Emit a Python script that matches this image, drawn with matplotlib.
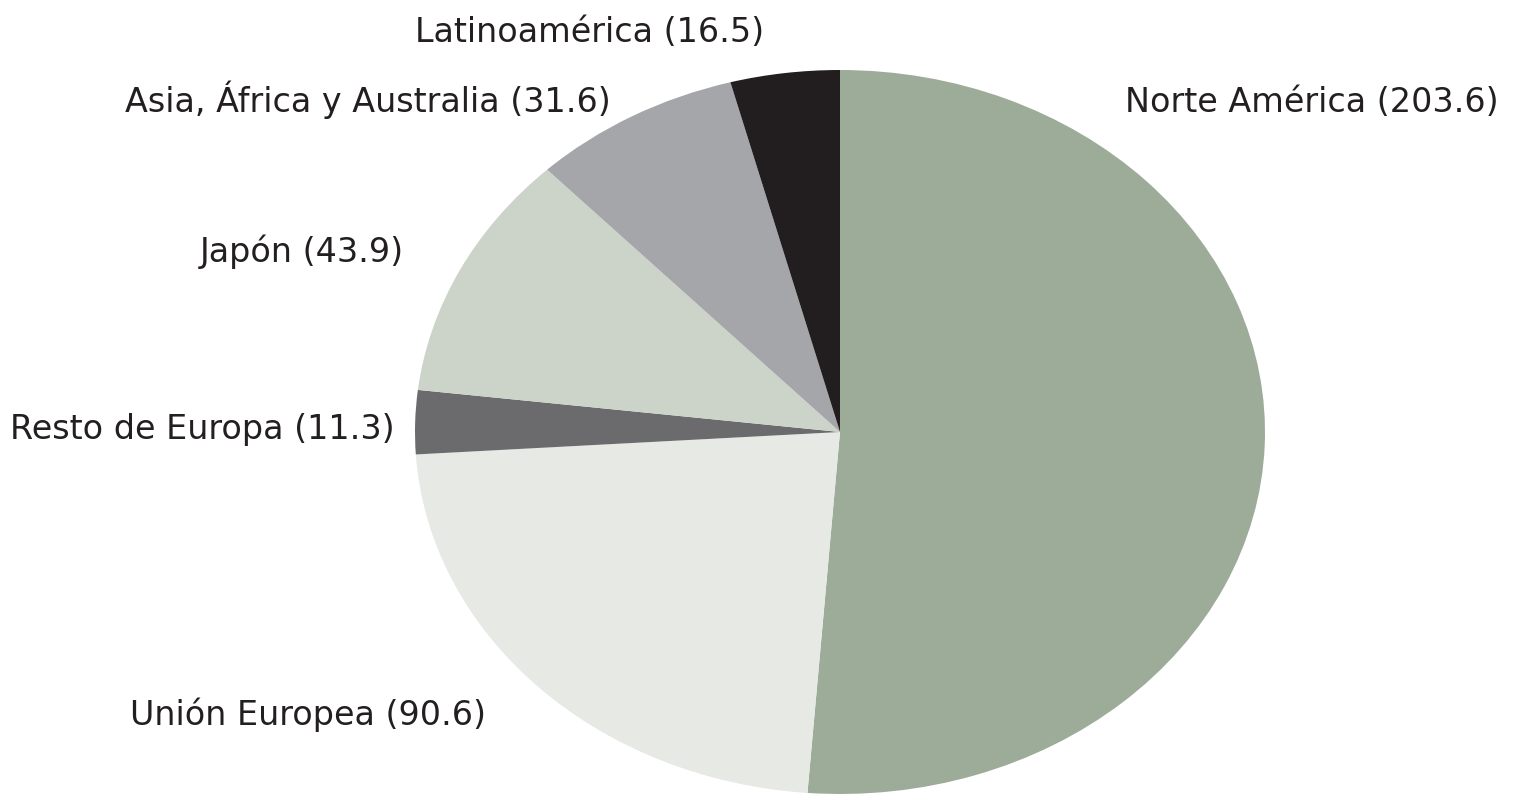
import matplotlib
matplotlib.use("Agg")
import matplotlib.pyplot as plt

# Regions and values (clockwise from the top)
regions = ["Norte América", "Unión Europea", "Resto de Europa", "Japón",
           "Asia, África y Australia", "Latinoamérica"]
values = [203.6, 90.6, 11.3, 43.9, 31.6, 16.5]
colors = ["#9dac99", "#e6e9e4", "#6b6b6d", "#ccd4ca", "#a4a6a9", "#221e1f"]

# Label anchor points in figure pixels (left x, centre y), top-down
label_px = [(1125, 103), (130, 715), (10, 430), (200, 252), (125, 100), (415, 33)]

W, H = 1516, 795
fig = plt.figure(figsize=(W / 100, H / 100), dpi=100)

# the pie is stretched into an ellipse, so the axes box is the ellipse box
left, right, top, bottom = 415, 1265, 70, 794
ax = fig.add_axes([left / W, 1 - bottom / H, (right - left) / W, (bottom - top) / H])
ax.pie(values, colors=colors, startangle=90, counterclock=False,
       wedgeprops=dict(linewidth=0))
ax.set_aspect("auto")
ax.set_xlim(-1, 1)
ax.set_ylim(-1, 1)
ax.axis("off")

for name, v, (x, y) in zip(regions, values, label_px):
    fig.text(x / W, 1 - y / H, f"{name} ({v})", ha="left", va="center",
             fontsize=24, family="DejaVu Sans", color="#231f20")

fig.savefig("out.png", dpi=100)
